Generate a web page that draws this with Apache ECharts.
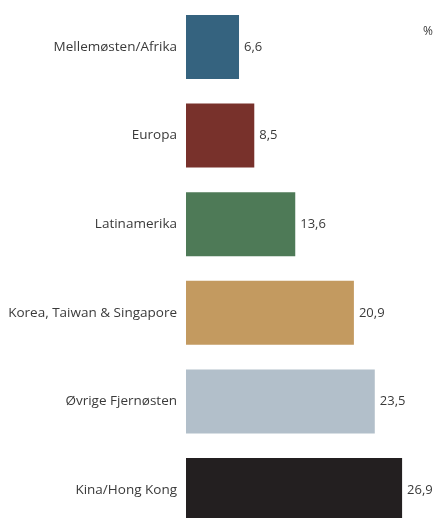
<!DOCTYPE html>
<html>
<head>
<meta charset="utf-8">
<script src="https://cdn.jsdelivr.net/npm/echarts@6/dist/echarts.min.js"></script>
<style>
  html, body { margin: 0; padding: 0; background: #ffffff; }
  #chart { width: 436px; height: 518px; }
</style>
</head>
<body>
<div id="chart"></div>
<script>
// Regions, top to bottom
const categories = [
  'Mellemøsten/Afrika',
  'Europa',
  'Latinamerika',
  'Korea, Taiwan & Singapore',
  'Øvrige Fjernøsten',
  'Kina/Hong Kong'
];
// Share in percent
const values = [6.6, 8.5, 13.6, 20.9, 23.5, 26.9];
// One colour per region
const barColors = ['#35637f', '#78312b', '#4e7a57', '#c39a60', '#b2bfca', '#231f20'];
const unitLabel = '%';

const FONT = '"Open Sans", sans-serif';
const TEXT = '#3a3a3a';

const chart = echarts.init(document.getElementById('chart'), null, { renderer: 'canvas' });

chart.setOption({
  animation: false,
  backgroundColor: '#ffffff',
  grid: {
    left: 186, top: 2.7, width: 241, height: 531.6,
    containLabel: false,
    outerBoundsMode: 'none'
  },
  xAxis: {
    type: 'value',
    min: 0,
    max: 30,
    show: false
  },
  yAxis: {
    type: 'category',
    data: categories,
    inverse: true,
    axisLine: { show: false },
    axisTick: { show: false },
    splitLine: { show: false },
    axisLabel: {
      margin: 9,
      color: TEXT,
      fontFamily: FONT,
      fontSize: 13.5
    }
  },
  graphic: [{
    type: 'text',
    left: 423,
    top: 26,
    style: { text: unitLabel, fill: TEXT, font: '12px ' + FONT }
  }],
  series: [{
    type: 'bar',
    barWidth: 64,
    data: values.map((v, i) => ({ value: v, itemStyle: { color: barColors[i] } })),
    label: {
      show: true,
      position: 'right',
      distance: 5,
      color: TEXT,
      fontFamily: FONT,
      fontSize: 13,
      formatter: p => String(p.value).replace('.', ',')
    }
  }]
});
</script>
</body>
</html>
